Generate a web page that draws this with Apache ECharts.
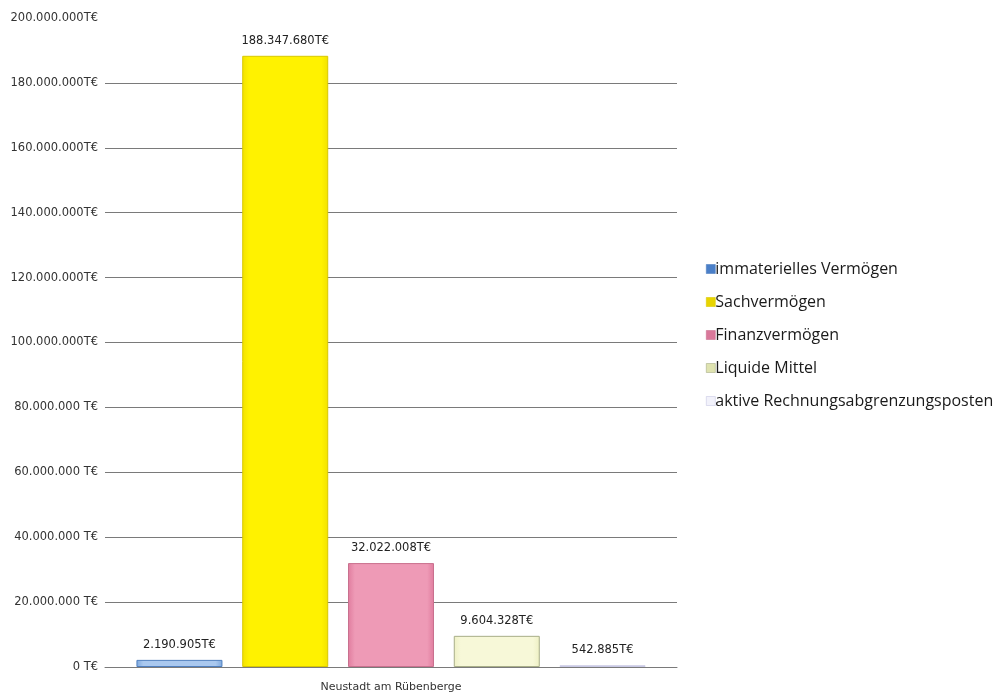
<!DOCTYPE html>
<html>
<head>
<meta charset="utf-8">
<script src="https://cdn.jsdelivr.net/npm/echarts@6/dist/echarts.min.js"></script>
<style>
  html, body { margin: 0; padding: 0; background: #ffffff; }
  #chart { width: 1003px; height: 697px; }
</style>
</head>
<body>
<div id="chart"></div>
<script>
// Vermögensstruktur (Aktiva) – Werte in T€
const categories = ['Neustadt am Rübenberge'];
const seriesNames = [
  'immaterielles Vermögen',
  'Sachvermögen',
  'Finanzvermögen',
  'Liquide Mittel',
  'aktive Rechnungsabgrenzungsposten'
];
const immateriell = [2190905];
const sachvermoegen = [188347680];
const finanzvermoegen = [32022008];
const liquideMittel = [9604328];
const rechnungsabgrenzung = [542885];
const yTickLabels = [
  '0 T€', '20.000.000 T€', '40.000.000 T€', '60.000.000 T€', '80.000.000 T€',
  '100.000.000T€', '120.000.000T€', '140.000.000T€', '160.000.000T€',
  '180.000.000T€', '200.000.000T€'
];

const seriesValues = [immateriell, sachvermoegen, finanzvermoegen, liquideMittel, rechnungsabgrenzung];

// fill: edge / middle, border, legend icon colour
const styles = [
  { edge: '#7fa9de', mid: '#a9c8ef', border: '#4f7fbf', icon: '#4a7fc8' },
  { edge: '#f2e200', mid: '#fff200', border: '#d8c800', icon: '#e8d400' },
  { edge: '#e07c9e', mid: '#ee9ab6', border: '#c9708e', icon: '#d9789a' },
  { edge: '#eef0c4', mid: '#f7f8d8', border: '#a8ae88', icon: '#dfe3b0' },
  { edge: '#f4f4fb', mid: '#ffffff', border: '#c8c8e4', icon: '#f2f2fb' }
];

function fmtDe(v) {
  return String(Math.round(v)).replace(/\B(?=(\d{3})+(?!\d))/g, '.');
}

const tickStep = 20000000;

const chart = echarts.init(document.getElementById('chart'), null, { renderer: 'canvas' });

const series = seriesNames.map((name, i) => ({
  name: name,
  type: 'bar',
  data: seriesValues[i],
  barWidth: 86,
  barGap: '23%',
  itemStyle: {
    color: {
      type: 'linear', x: 0, y: 0, x2: 1, y2: 0,
      colorStops: [
        { offset: 0, color: styles[i].edge },
        { offset: 0.08, color: styles[i].mid },
        { offset: 0.92, color: styles[i].mid },
        { offset: 1, color: styles[i].edge }
      ]
    },
    borderColor: styles[i].border,
    borderWidth: 1
  },
  label: {
    show: true,
    position: 'top',
    distance: 9,
    color: '#222',
    fontFamily: 'DejaVu Sans',
    fontSize: 11.5,
    formatter: p => fmtDe(p.value) + 'T€'
  }
}));

chart.setOption({
  backgroundColor: '#ffffff',
  animation: false,
  grid: { left: 105, right: 326, top: 18, bottom: 30, containLabel: false },
  legend: {
    orient: 'vertical',
    left: 701,
    top: 255,
    itemWidth: 9,
    itemHeight: 9,
    itemGap: 15,
    icon: 'rect',
    data: seriesNames.map((n, i) => ({
      name: n,
      itemStyle: { color: styles[i].icon, borderColor: styles[i].border, borderWidth: 0.6 }
    })),
    textStyle: {
      fontFamily: 'Open Sans',
      fontSize: 16,
      lineHeight: 18,
      color: '#1a1a1a',
      padding: [0, 0, 0, -5]
    }
  },
  xAxis: {
    type: 'category',
    data: categories,
    axisLine: { show: true, lineStyle: { color: '#7a7a7a', width: 1 } },
    axisTick: { show: false },
    axisLabel: {
      margin: 15,
      color: '#333',
      fontFamily: 'DejaVu Sans',
      fontSize: 11
    }
  },
  yAxis: {
    type: 'value',
    min: 0,
    max: 200000000,
    interval: tickStep,
    axisLine: { show: false },
    axisTick: { show: false },
    splitLine: { show: true, showMaxLine: false, lineStyle: { color: '#7a7a7a', width: 1 } },
    axisLabel: {
      margin: 7,
      color: '#333',
      fontFamily: 'DejaVu Sans',
      fontSize: 11.5,
      formatter: v => yTickLabels[Math.round(v / tickStep)]
    }
  },
  series: series
});
</script>
</body>
</html>
